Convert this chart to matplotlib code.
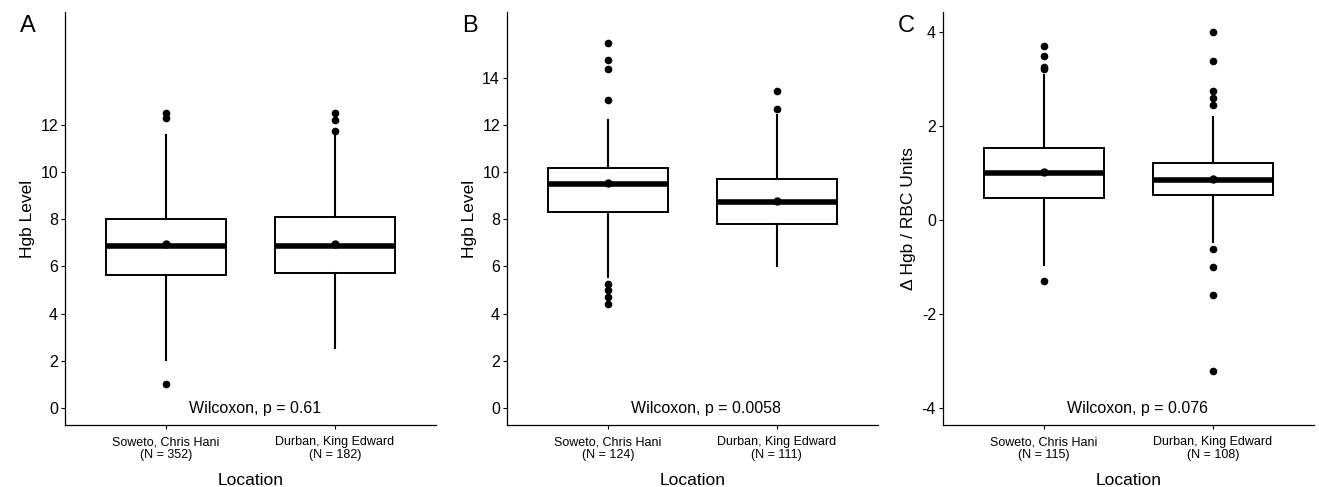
import matplotlib
matplotlib.use("Agg")
import matplotlib.pyplot as plt

plt.rcParams["font.family"] = ["Liberation Sans", "DejaVu Sans"]
plt.rcParams["axes.unicode_minus"] = False

# --- data ---
locations = ["Soweto, Chris Hani", "Durban, King Edward"]

a_n = [352, 182]
a_q1 = [5.63, 5.74]
a_med = [6.88, 6.88]
a_q3 = [8.02, 8.10]
a_lo = [2.03, 2.53]
a_hi = [11.56, 11.56]
a_mean = [6.95, 6.95]
a_fliers = [[12.5, 12.3, 1.0], [12.5, 12.2, 11.75]]
a_p = "0.61"

b_n = [124, 111]
b_q1 = [8.31, 7.82]
b_med = [9.51, 8.72]
b_q3 = [10.19, 9.70]
b_lo = [5.56, 6.04]
b_hi = [12.2, 12.41]
b_mean = [9.56, 8.78]
b_fliers = [[15.5, 14.77, 14.37, 13.08, 5.26, 4.98, 4.70, 4.41], [13.46, 12.68]]
b_p = "0.0058"

c_n = [115, 108]
c_q1 = [0.475, 0.53]
c_med = [0.99, 0.85]
c_q3 = [1.54, 1.22]
c_lo = [-0.97, -0.48]
c_hi = [3.09, 2.20]
c_mean = [1.02, 0.88]
c_fliers = [[3.71, 3.49, 3.25, 3.21, -1.31], [4.0, 3.39, 2.75, 2.60, 2.45, -0.61, -1.0, -1.6, -3.21]]
c_p = "0.076"

panels = [
    dict(tag="A", n=a_n, q1=a_q1, med=a_med, q3=a_q3, lo=a_lo, hi=a_hi, mean=a_mean,
         fliers=a_fliers, p=a_p, ylabel="Hgb Level", ylim=(-0.73, 16.8), yticks=[0, 2, 4, 6, 8, 10, 12]),
    dict(tag="B", n=b_n, q1=b_q1, med=b_med, q3=b_q3, lo=b_lo, hi=b_hi, mean=b_mean,
         fliers=b_fliers, p=b_p, ylabel="Hgb Level", ylim=(-0.73, 16.8), yticks=[0, 2, 4, 6, 8, 10, 12, 14]),
    dict(tag="C", n=c_n, q1=c_q1, med=c_med, q3=c_q3, lo=c_lo, hi=c_hi, mean=c_mean,
         fliers=c_fliers, p=c_p, ylabel="Δ Hgb / RBC Units", ylim=(-4.37, 4.43), yticks=[-4, -2, 0, 2, 4]),
]

fig = plt.figure(figsize=(13.19, 4.87), dpi=100)
W, H = 1319, 487
lefts = [65, 507, 943]
width = 371
bottom_px, top_px = 425, 12

for left, pn in zip(lefts, panels):
    ax = fig.add_axes([left / W, (H - bottom_px) / H, width / W, (bottom_px - top_px) / H])
    stats = []
    for i in range(2):
        stats.append(dict(q1=pn["q1"][i], med=pn["med"][i], q3=pn["q3"][i],
                          whislo=pn["lo"][i], whishi=pn["hi"][i],
                          mean=pn["mean"][i], fliers=pn["fliers"][i]))
    ax.bxp(stats, positions=[1, 2], widths=0.71, showmeans=True, patch_artist=True,
           boxprops=dict(facecolor="white", edgecolor="black", linewidth=1.4),
           medianprops=dict(color="black", linewidth=4),
           whiskerprops=dict(color="black", linewidth=1.5),
           capprops=dict(linewidth=0),
           meanprops=dict(marker="o", markerfacecolor="black", markeredgecolor="black", markersize=5),
           flierprops=dict(marker="o", markerfacecolor="black", markeredgecolor="black", markersize=4.5))

    ax.set_xlim(0.4, 2.6)
    ax.set_ylim(*pn["ylim"])
    ax.set_yticks(pn["yticks"])
    ax.set_xticks([1, 2])
    ax.set_xticklabels([f"{loc}\n(N = {n})" for loc, n in zip(locations, pn["n"])],
                       fontsize=9, linespacing=1.1)
    ax.tick_params(axis="y", labelsize=11.5, length=3, width=0.8, pad=2)
    ax.tick_params(axis="x", length=3, width=0.8, pad=5)
    for s in ["top", "right"]:
        ax.spines[s].set_visible(False)
    for s in ["left", "bottom"]:
        ax.spines[s].set_linewidth(0.9)
    ax.set_xlabel("Location", fontsize=12.5, labelpad=8.5)
    ax.set_ylabel(pn["ylabel"], fontsize=12.5, labelpad=4)
    ax.text(0.333, 0.04, f"Wilcoxon, p = {pn['p']}", transform=ax.transAxes,
            fontsize=11.5, ha="left", va="center")
    fig.text((left - 45) / W, 1 - 26 / H, pn["tag"], fontsize=17, ha="left", va="center")

fig.savefig("out.png", dpi=100)
